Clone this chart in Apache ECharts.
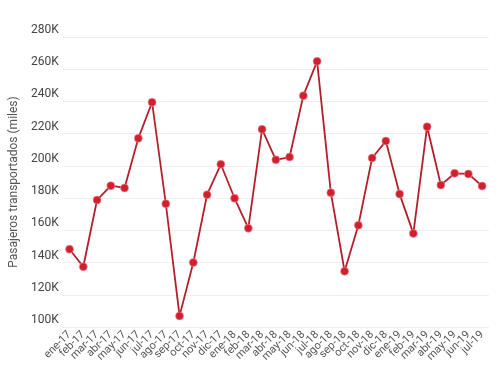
<!DOCTYPE html>
<html><head><meta charset="utf-8">
<script src="https://cdn.jsdelivr.net/npm/echarts@6/dist/echarts.min.js"></script>
<style>html,body{margin:0;padding:0;background:#fff}#c{width:500px;height:381px}</style>
</head><body><div id="c"></div>
<script>
const categories = ['ene-17','feb-17','mar-17','abr-17','may-17','jun-17','jul-17','ago-17','sep-17','oct-17','nov-17','dic-17',
'ene-18','feb-18','mar-18','abr-18','may-18','jun-18','jul-18','ago-18','sep-18','oct-18','nov-18','dic-18',
'ene-19','feb-19','mar-19','abr-19','may-19','jun-19','jul-19'];
const pasajeros = [148300,137400,178800,187700,186300,217100,239500,176500,106900,140000,182100,201000,
179900,161300,222700,203800,205500,243600,264900,183400,134600,163100,204900,215400,
182500,158100,224300,188100,195400,195000,187500];
const yTicks = {min:100000, max:280000, interval:20000};
const yName = 'Pasajeros transportados (miles)';

const chart = echarts.init(document.getElementById('c'));
chart.setOption({
  animation:false,
  grid:{left:55, right:11, top:37, bottom:54},
  xAxis:{
    type:'category', data:categories, boundaryGap:true,
    axisLine:{show:false}, axisTick:{show:false},
    axisLabel:{rotate:45, interval:0, fontSize:11, color:'#555', fontFamily:'Roboto', margin:6}
  },
  yAxis:{
    type:'value', min:yTicks.min, max:yTicks.max, interval:yTicks.interval,
    name:yName, nameLocation:'middle', nameGap:38, nameRotate:90,
    nameTextStyle:{fontSize:12, color:'#555', fontFamily:'Roboto'},
    axisLine:{show:false}, axisTick:{show:false},
    splitLine:{lineStyle:{color:'#efefef', width:1}},
    axisLabel:{formatter:v=>(v/1000)+'K', fontSize:12, color:'#444', fontFamily:'Roboto',
      verticalAlign:'bottom', margin:4, padding:[0,0,1,0]}
  },
  series:[{
    type:'line', data:pasajeros, symbol:'circle', symbolSize:8,
    lineStyle:{color:'#b51f2b', width:1.8},
    itemStyle:{color:'#d0202e', borderColor:'rgba(240,150,160,0.6)', borderWidth:1}
  }]
});
</script></body></html>
